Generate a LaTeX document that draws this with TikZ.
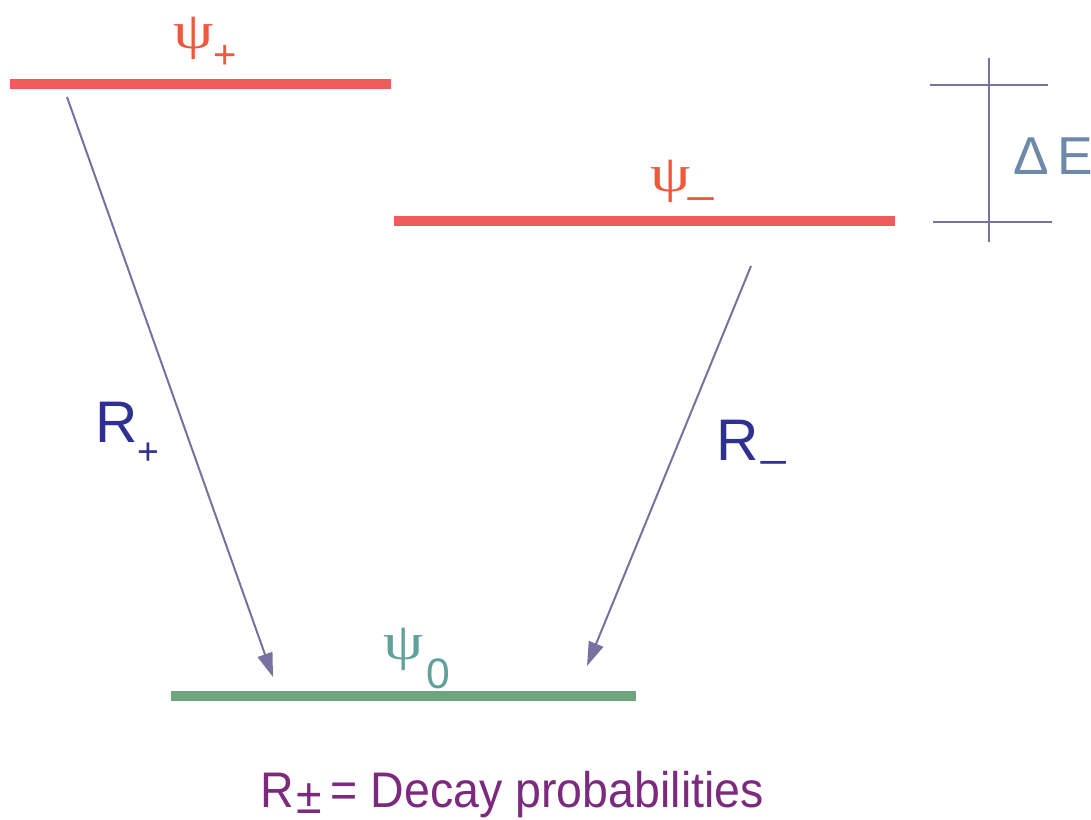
\documentclass[tikz,border=0pt]{standalone}
\usepackage{fontspec}
\setmainfont{Liberation Sans}
\newfontfamily\psifont{Liberation Serif}
\usetikzlibrary{arrows.meta}
\definecolor{levelred}{HTML}{EF5B5B}
\definecolor{levelgreen}{HTML}{6DA57F}
\definecolor{psired}{HTML}{F0583C}
\definecolor{psiteal}{HTML}{5FA29A}
\definecolor{arrowcol}{HTML}{77719F}
\definecolor{bracketcol}{HTML}{7A719E}
\definecolor{deltacol}{HTML}{6D88A9}
\definecolor{rblue}{HTML}{2E3192}
\definecolor{bottompurple}{HTML}{7C2A7E}
\newcommand{\bigpsi}{\scalebox{1.42}[1.15]{ψ}}
\tikzset{
  energylevel/.style={line width=7.3pt},
  decay/.style={draw=arrowcol, line width=1.5pt, -{Triangle[length=18pt,width=11.5pt]}},
  bracketline/.style={draw=bracketcol, line width=1.5pt},
  lbl/.style={inner sep=0pt, outer sep=0pt},
  psilbl/.style={lbl, anchor=base west, font=\psifont\fontsize{34}{34}\selectfont},
}
\begin{document}
\begin{tikzpicture}[x=0.75pt,y=-0.75pt]
\useasboundingbox (0,0) rectangle (1091,820);
% levels
\coordinate (pL) at (10,84);   \coordinate (pR) at (391,84);
\coordinate (mL) at (394,221); \coordinate (mR) at (895,221);
\coordinate (zL) at (171,696); \coordinate (zR) at (636,696);
\draw[energylevel, levelred] (pL) -- (pR);
\draw[energylevel, levelred] (mL) -- (mR);
\draw[energylevel, levelgreen] (zL) -- (zR);
% level labels
\node[psilbl, text=psired] (psiP) at (173,49) {\bigpsi};
\node[lbl, anchor=base west, text=psired, font=\fontsize{30}{30}\selectfont] (psiPsub) at (213,69) {+};
\node[psilbl, text=psired] (psiM) at (650,191) {\bigpsi};
\node[lbl, anchor=base west, text=psired, font=\fontsize{34}{34}\selectfont] (psiMsub) at (688,191) {\_};
\node[psilbl, text=psiteal] (psiZ) at (383,659) {\bigpsi};
\node[lbl, anchor=base west, text=psiteal, font=\fontsize{32}{32}\selectfont] (psiZsub) at (426,688) {0};
% decay arrows
\coordinate (a1s) at (67,97);   \coordinate (a1e) at (273,677);
\coordinate (a2s) at (751,266); \coordinate (a2e) at (587,666);
\draw[decay] (a1s) -- (a1e);
\draw[decay] (a2s) -- (a2e);
\node[lbl, anchor=base west, text=rblue, font=\fontsize{44}{44}\selectfont] (Rp) at (95,442) {R};
\node[lbl, anchor=base west, text=rblue, font=\fontsize{28}{28}\selectfont] (Rpsub) at (137,464) {+};
\node[lbl, anchor=base west, text=rblue, font=\fontsize{44}{44}\selectfont] (Rm) at (716,460) {R};
\node[lbl, anchor=base west, text=rblue, font=\fontsize{33}{33}\selectfont] (Rmsub) at (761,455) {\_};
% Delta E bracket
\coordinate (bT) at (989,58);  \coordinate (bB) at (989,242);
\coordinate (tL) at (930,85);  \coordinate (tR) at (1048,85);
\coordinate (uL) at (933,222); \coordinate (uR) at (1052,222);
\draw[bracketline] (bT) -- (bB);
\draw[bracketline] (tL) -- (tR);
\draw[bracketline] (uL) -- (uR);
\node[lbl, anchor=base west, text=deltacol, font=\fontsize{40}{40}\selectfont] (dE) at (1013,175) {Δ\,E};
% caption
\node[lbl, anchor=base west, text=bottompurple, font=\fontsize{37.5}{37.5}\selectfont] (cap) at (260,807) {\scalebox{0.93}[1]{R\kern2.5pt\raisebox{-4.5pt}{±}\kern7pt= Decay probabilities}};
\end{tikzpicture}
\end{document}
